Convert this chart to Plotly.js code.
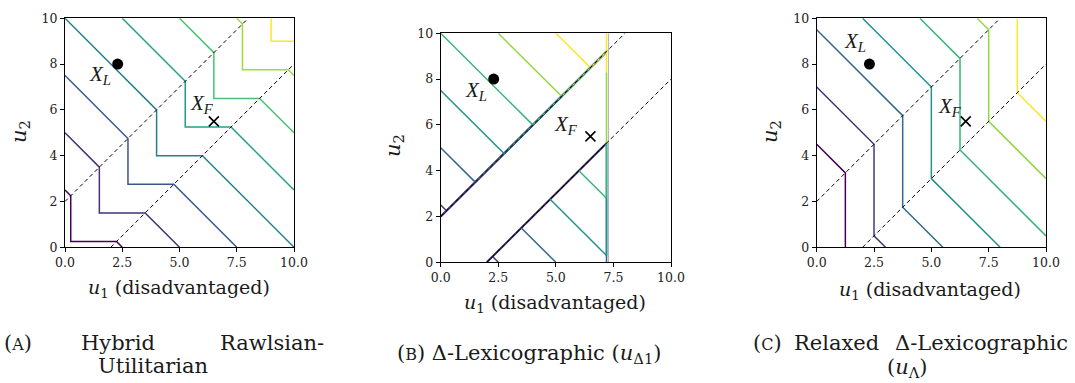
<!DOCTYPE html>
<html><head><meta charset="utf-8">
<script src="https://cdn.plot.ly/plotly-3.0.1.min.js"></script>
<style>html,body{margin:0;padding:0;background:#fff}</style>
</head><body><div id="chart" style="width:1075px;height:383px"></div>
<script>
// ---------- data ----------
const xTickVals = [0, 2.5, 5, 7.5, 10];
const xTickText = ['0.0', '2.5', '5.0', '7.5', '10.0'];
const yTickVals = [0, 2, 4, 6, 8, 10];
const yTickText = ['0', '2', '4', '6', '8', '10'];

const pointL = [2.3, 8.0];
const pointF = [6.5, 5.5];
const dashUpperX = [0, 8],  dashUpperY = [2, 10];
const dashLowerX = [2, 10], dashLowerY = [0, 8];

// Panel A : Hybrid Rawlsian-Utilitarian
const aLevels = [2.5, 5, 7.5, 10, 12.5, 15, 17.5, 20];
const aLineX = [[0,0.25,0.25,2.25,2.5],[0,1.5,1.5,3.5,5],[0,2.75,2.75,4.75,7.5],[0,4,4,6,10],
                [2.5,5.25,5.25,7.25,10],[5,6.5,6.5,8.5,10],[7.5,7.75,7.75,9.75,10],[9,9,10]];
const aLineY = [[2.5,2.25,0.25,0.25,0],[5,3.5,1.5,1.5,0],[7.5,4.75,2.75,2.75,0],[10,6,4,4,0],
                [10,7.25,5.25,5.25,2.5],[10,8.5,6.5,6.5,5],[10,9.75,7.75,7.75,7.5],[10,9,9]];

// Panel B : Delta-Lexicographic
const bLevels = [2.5, 5, 7.5, 10, 12.5, 15];
const bUpperX = [[0,0.25],[0,1.5],[0,2.75],[0,4],[2.5,5.25],[5,6.5]];
const bUpperY = [[2.5,2.25],[5,3.5],[7.5,4.75],[10,6],[10,7.25],[10,8.5]];
const bEdgeStartX = [0, 1.5, 2.75, 4, 5.25, 6.5];   // where each level joins the upper boundary
const bEdgeEnd = [7.2, 9.2];
const bLowerLevels = [2.5, 5, 7.5, 10];
const bLowerX = [[2.25,2.5],[3.5,5],[4.75,7.2],[6,7.2]];
const bLowerY = [[0.25,0],[1.5,0],[2.75,0.3],[4,2.8]];
const bLowerEdgeX = [2, 7.2], bLowerEdgeY = [0, 5.2];
const bVertX = 7.2;
const bVertSegY = [[0,5.2],[0.3,2.8],[2.8,5.2],[5.2,8.3],[8.3,10]];
const bVertLevel = [5, 7.5, 10, 12.5, 15];

// Panel C : Relaxed Delta-Lexicographic
const cLevels = [4.5, 7, 9.5, 12, 14.5, 17, 19.5];
const cLineX = [[0,1.25,1.25],[0,2.5,2.5,3],[0,3.75,3.75,5.5],[2,5,5,8],[4.5,6.25,6.25,10],[7,7.5,7.5,10],[8.75,8.75,10]];
const cLineY = [[4.5,3.25,0],[7,4.5,0.5,0],[9.5,5.75,1.75,0],[10,7,3,0],[10,8.25,4.25,0.5],[10,9.5,5.5,3],[10,6.75,5.5]];

// ---------- styles ----------
const aColors = ['#440154','#472f7d','#39568c','#277f8e','#1fa188','#4ac16d','#a0da39','#fde725'];
const bColors = ['#453781','#31688e','#21918c','#35b779','#90d743','#fde725'];
const cColors = ['#440154','#453781','#31688e','#21918c','#35b779','#90d743','#fde725'];
const W = 1075, H = 383;
const px = x => x / W, py = y => 1 - y / H;
const serif = 'DejaVu Serif';
const mathFont = 'Liberation Serif';
const txtCol = '#1a1a1a';
const LW = 1.5;

const traces = [];
function line(xs, ys, color, ax, width, dash) {
  traces.push({type:'scatter', mode:'lines', x:xs, y:ys, xaxis:'x'+ax, yaxis:'y'+ax,
    line:{color:color, width:width||LW, dash:dash||'solid'}, hoverinfo:'skip', showlegend:false});
}
function points(ax) {
  traces.push({type:'scatter', mode:'markers', x:[pointL[0]], y:[pointL[1]], xaxis:'x'+ax, yaxis:'y'+ax,
    marker:{symbol:'circle', size:11, color:'#000'}, showlegend:false, hoverinfo:'skip'});
  traces.push({type:'scatter', mode:'markers', x:[pointF[0]], y:[pointF[1]], xaxis:'x'+ax, yaxis:'y'+ax,
    marker:{symbol:'x-thin', size:10, color:'#000', line:{color:'#000', width:1.6}}, showlegend:false, hoverinfo:'skip'});
}
function dashes(ax) {
  line(dashUpperX, dashUpperY, '#000', ax, 1, '4px,3px');
  line(dashLowerX, dashLowerY, '#000', ax, 1, '4px,3px');
}

// Panel A
aLevels.forEach((lv, i) => line(aLineX[i], aLineY[i], aColors[i], ''));
dashes(''); points('');

// Panel B
line([bEdgeStartX[0], bEdgeEnd[0]], [bEdgeStartX[0] + 2, bEdgeEnd[1]], '#2b1f52', '2', 2.2);
bLevels.forEach((lv, i) => line(bUpperX[i], bUpperY[i], bColors[i], '2'));
bLevels.forEach((lv, i) => line([bEdgeStartX[i], bEdgeEnd[0]], [bEdgeStartX[i] + 2, bEdgeEnd[1]], bColors[i], '2', 1.1));
line(bLowerEdgeX, bLowerEdgeY, '#2d1d55', '2', 2);
bLowerLevels.forEach((lv, i) => line(bLowerX[i], bLowerY[i], bColors[bLevels.indexOf(lv)], '2'));
line([bVertX + 0.09, bVertX + 0.09], [0, 10], '#aeb0cc', '2', 1);
bVertSegY.forEach((seg, i) => line([bVertX, bVertX], seg, bColors[bLevels.indexOf(bVertLevel[i])], '2', 1.6));
dashes('2'); points('2');

// Panel C
cLevels.forEach((lv, i) => line(cLineX[i], cLineY[i], cColors[i], '3'));
dashes('3'); points('3');

function axis(domain, anchor, isX) {
  return {domain:domain, anchor:anchor, range:[0,10], autorange:false,
    tickmode:'array', tickvals:isX?xTickVals:yTickVals, ticktext:isX?xTickText:yTickText,
    showline:true, mirror:true, linecolor:'#000', linewidth:1,
    ticks:'outside', ticklen:4, tickwidth:1, tickcolor:'#000',
    showgrid:false, zeroline:false, fixedrange:true,
    tickfont:{family:serif, size:12.5, color:'#222'}};
}
const dA = {x:[px(65), px(294)], y:[py(247.3), py(18.3)]};
const dB = {x:[px(440.7), px(671)], y:[py(262.3), py(33.3)]};
const dC = {x:[px(816.7), px(1046)], y:[py(247.3), py(18.3)]};

const ann = [];
function pa(text, x, y, size, opts, fam) {
  ann.push(Object.assign({xref:'paper', yref:'paper', x:px(x), y:py(y), text:text, showarrow:false,
    xanchor:'center', yanchor:'middle', font:{family:fam||serif, size:size, color:txtCol}}, opts||{}));
}
function da(text, x, y, ax) {
  ann.push({xref:'x'+ax, yref:'y'+ax, x:x, y:y, text:text, showarrow:false,
    xanchor:'center', yanchor:'middle', font:{family:mathFont, size:21, color:txtCol}});
}
const xTitle = '<i>u</i><sub>1</sub> (disadvantaged)';
const yTitle = '<i>u</i><sub>2</sub>';
pa(xTitle, 179, 288, 19); pa(xTitle, 555, 303, 19); pa(xTitle, 930, 290, 19);
pa(yTitle, 20, 132, 21, {textangle:-90}); pa(yTitle, 394, 146, 21, {textangle:-90}); pa(yTitle, 771, 132, 21, {textangle:-90});
da('<i>X</i><sub><i>L</i></sub>', 1.53, 7.52, ''); da('<i>X</i><sub><i>F</i></sub>', 6.0, 6.25, '');
da('<i>X</i><sub><i>L</i></sub>', 1.53, 7.48, '2'); da('<i>X</i><sub><i>F</i></sub>', 5.46, 6.0, '2');
da('<i>X</i><sub><i>L</i></sub>', 1.67, 8.95, '3'); da('<i>X</i><sub><i>F</i></sub>', 5.8, 6.14, '3');

// captions
const capSize = 21;
const sc = s => '<span style="font-size:16px">' + s + '</span>';
pa('(' + sc('A') + ')', 18, 343, capSize);
pa('Hybrid', 118, 343, capSize);
pa('Rawlsian-', 272, 343, capSize);
pa('Utilitarian', 153, 366, capSize);
pa('(' + sc('B') + ') Δ-Lexicographic (<i>u</i><sub>Δ1</sub>)', 529, 354, capSize);
pa('(' + sc('C') + ')', 767, 343, capSize);
pa('Relaxed', 836, 343, capSize);
pa('Δ-Lexicographic', 981, 343, capSize);
pa('(<i>u</i><sub>Λ</sub>)', 907, 368, capSize);

const layout = {width:W, height:H, margin:{l:0,r:0,t:0,b:0}, paper_bgcolor:'#fff', plot_bgcolor:'#fff',
  showlegend:false,
  xaxis:axis(dA.x,'y',true), yaxis:axis(dA.y,'x',false),
  xaxis2:axis(dB.x,'y2',true), yaxis2:axis(dB.y,'x2',false),
  xaxis3:axis(dC.x,'y3',true), yaxis3:axis(dC.y,'x3',false),
  annotations:ann};
Plotly.newPlot('chart', traces, layout, {displayModeBar:false});
</script></body></html>
